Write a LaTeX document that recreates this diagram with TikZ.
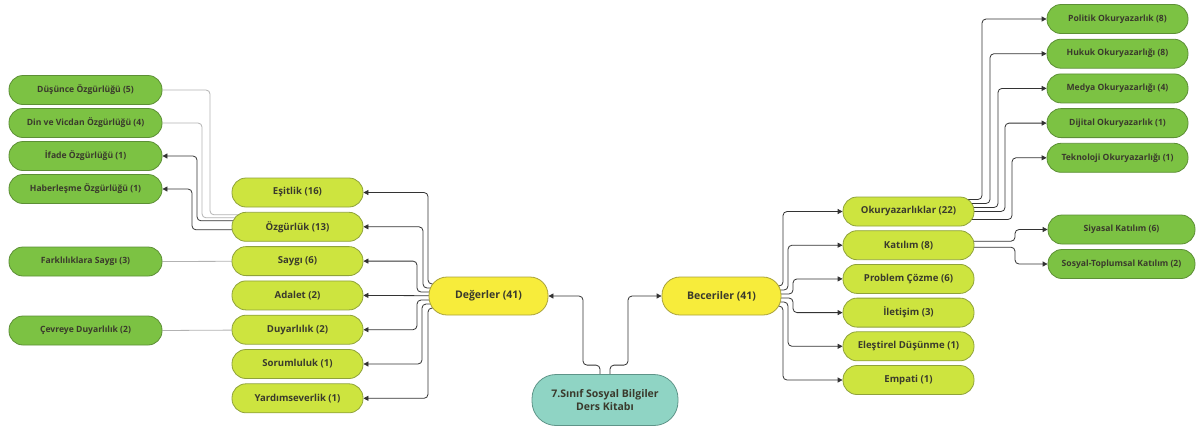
\documentclass[tikz,border=0pt]{standalone}
\usepackage{fontspec}
\setmainfont{Open Sans}
\usepackage{tikz}
\usetikzlibrary{positioning,calc,arrows.meta,backgrounds}
\definecolor{leaf}{HTML}{7CC243}
\definecolor{leafline}{HTML}{5C8F35}
\definecolor{lime}{HTML}{CDE43F}
\definecolor{limeline}{HTML}{8FA23A}
\definecolor{yel}{HTML}{F7EC3B}
\definecolor{yelline}{HTML}{A9A23A}
\definecolor{teal}{HTML}{8FD4C4}
\definecolor{tealline}{HTML}{5E9488}
\definecolor{ink}{HTML}{3A3A2C}
\tikzset{
  box/.style={rectangle,rounded corners=14pt,minimum height=29pt,line width=0.8pt,text=ink,font=\bfseries,inner sep=2pt},
  leafbox/.style={box,fill=leaf,draw=leafline,font=\bfseries\fontsize{8.6}{10}\selectfont},
  topic/.style={box,fill=lime,draw=limeline,minimum width=131pt,font=\bfseries\fontsize{9.6}{11}\selectfont},
  mainbox/.style={box,fill=yel,draw=yelline,minimum width=119pt,minimum height=38pt,rounded corners=18pt,font=\bfseries\fontsize{10.5}{12}\selectfont},
  rootbox/.style={box,fill=teal,draw=tealline,minimum width=146pt,minimum height=51pt,rounded corners=24pt,align=center,font=\bfseries\fontsize{10.5}{13}\selectfont},
  arr/.style={draw=black!80,line width=0.8pt,rounded corners=4pt,-{Triangle[length=5pt,width=5pt]}},
  faint/.style={draw=black!30,line width=0.8pt,rounded corners=4pt}
}
\begin{document}
\begin{tikzpicture}[x=1pt,y=-1pt]
    \useasboundingbox (0,0) rectangle (1196,429);
    % center
    \node[rootbox] (kitap) at (605,400) {7.Sınıf Sosyal Bilgiler\\Ders Kitabı};
    \node[mainbox] (deg) at (488.5,296) {Değerler (41)};
    \node[mainbox] (bec) at (721.5,296) {Beceriler (41)};
    % values
    \node[topic] (esi) at (297.5,192.5) {Eşitlik (16)};
    \node[topic] (ozg) [below=4.5pt of esi] {Özgürlük (13)};
    \node[topic] (say) [below=4.5pt of ozg] {Saygı (6)};
    \node[topic] (ada) [below=4.5pt of say] {Adalet (2)};
    \node[topic] (duy) [below=4.5pt of ada] {Duyarlılık (2)};
    \node[topic] (sor) [below=4.5pt of duy] {Sorumluluk (1)};
    \node[topic] (yar) [below=4.5pt of sor] {Yardımseverlik (1)};
    \node[leafbox,minimum width=153pt] (dus) at (85.5,90) {Düşünce Özgürlüğü (5)};
    \node[leafbox,minimum width=153pt] (din) [below=3.2pt of dus] {Din ve Vicdan Özgürlüğü (4)};
    \node[leafbox,minimum width=153pt] (ifa) [below=3.2pt of din] {İfade Özgürlüğü (1)};
    \node[leafbox,minimum width=153pt] (hab) [below=3.2pt of ifa] {Haberleşme Özgürlüğü (1)};
    \node[leafbox,minimum width=153pt] (far) at (85.5,261.5) {Farklılıklara Saygı (3)};
    \node[leafbox,minimum width=153pt] (cev) at (85.5,330.5) {Çevreye Duyarlılık (2)};
    % skills
    \node[topic] (oku) at (908.5,211.5) {Okuryazarlıklar (22)};
    \node[topic] (kat) [below=3.9pt of oku] {Katılım (8)};
    \node[topic] (pro) [below=3.9pt of kat] {Problem Çözme (6)};
    \node[topic] (ile) [below=3.9pt of pro] {İletişim (3)};
    \node[topic] (ele) [below=3.9pt of ile] {Eleştirel Düşünme (1)};
    \node[topic] (emp) [below=3.9pt of ele] {Empati (1)};
    \node[leafbox,minimum width=141pt] (pol) at (1117.5,19) {Politik Okuryazarlık (8)};
    \node[leafbox,minimum width=141pt] (huk) [below=4.9pt of pol] {Hukuk Okuryazarlığı (8)};
    \node[leafbox,minimum width=141pt] (med) [below=4.9pt of huk] {Medya Okuryazarlığı (4)};
    \node[leafbox,minimum width=141pt] (dij) [below=4.9pt of med] {Dijital Okuryazarlık (1)};
    \node[leafbox,minimum width=141pt] (tek) [below=4.9pt of dij] {Teknoloji Okuryazarlığı (1)};
    \node[leafbox,minimum width=147pt] (siy) at (1121.5,229.5) {Siyasal Katılım (6)};
    \node[leafbox,minimum width=147pt] (sos) [below=4.7pt of siy] {Sosyal-Toplumsal Katılım (2)};
    \begin{scope}[on background layer]
    \draw[arr] ([xshift=-5pt]kitap.north) -- ++(0,-9) -- ++(-17,0) |- (deg.east);
    \draw[arr] ([xshift=5pt]kitap.north) -- ++(0,-9) -- ++(18,0) |- (bec.west);
    \foreach \t/\dy/\dx in {esi/12/60.5, ozg/8/65.5, say/4/71.5, duy/-4/71.5, sor/-8/66.5, yar/-12/60.5}
        \draw[arr] ([yshift=\dy pt]deg.center) -- ++(-\dx,0) |- (\t.east);
    \draw[arr] (deg.center) -- (ada.east);
    \foreach \t/\dy/\dx in {dus/12/87.5, din/9/95.5}
        \draw[faint] ([yshift=\dy pt]ozg.center) -- ++(-\dx,0) |- (\t.east);
    \foreach \t/\dy/\dx in {ifa/6/100.5, hab/-3/105.5}
        \draw[arr] ([yshift=\dy pt]ozg.center) -- ++(-\dx,0) |- (\t.east);
    \draw[faint] (say.center) -- (far.east);
    \draw[faint] (duy.center) -- (cev.east);
    \foreach \t/\dy/\dx in {oku/10/61.5, kat/6/66.5, pro/2/71.5, ile/-2/71.5, ele/-6/66.5, emp/-10/61.5}
        \draw[arr] ([yshift=\dy pt]bec.center) -- ++(\dx,0) |- (\t.west);
    \foreach \t/\dy/\dx in {pol/12/73.5, huk/8/81.5, med/4/89.5, dij/0/96.5, tek/-8/103.5}
        \draw[arr] ([yshift=\dy pt]oku.center) -- ++(\dx,0) |- (\t.west);
    \foreach \t/\dy in {siy/4, sos/-2}
        \draw[arr] ([yshift=\dy pt]kat.center) -- ++(106.5,0) |- (\t.west);
    \end{scope}
\end{tikzpicture}
\end{document}
